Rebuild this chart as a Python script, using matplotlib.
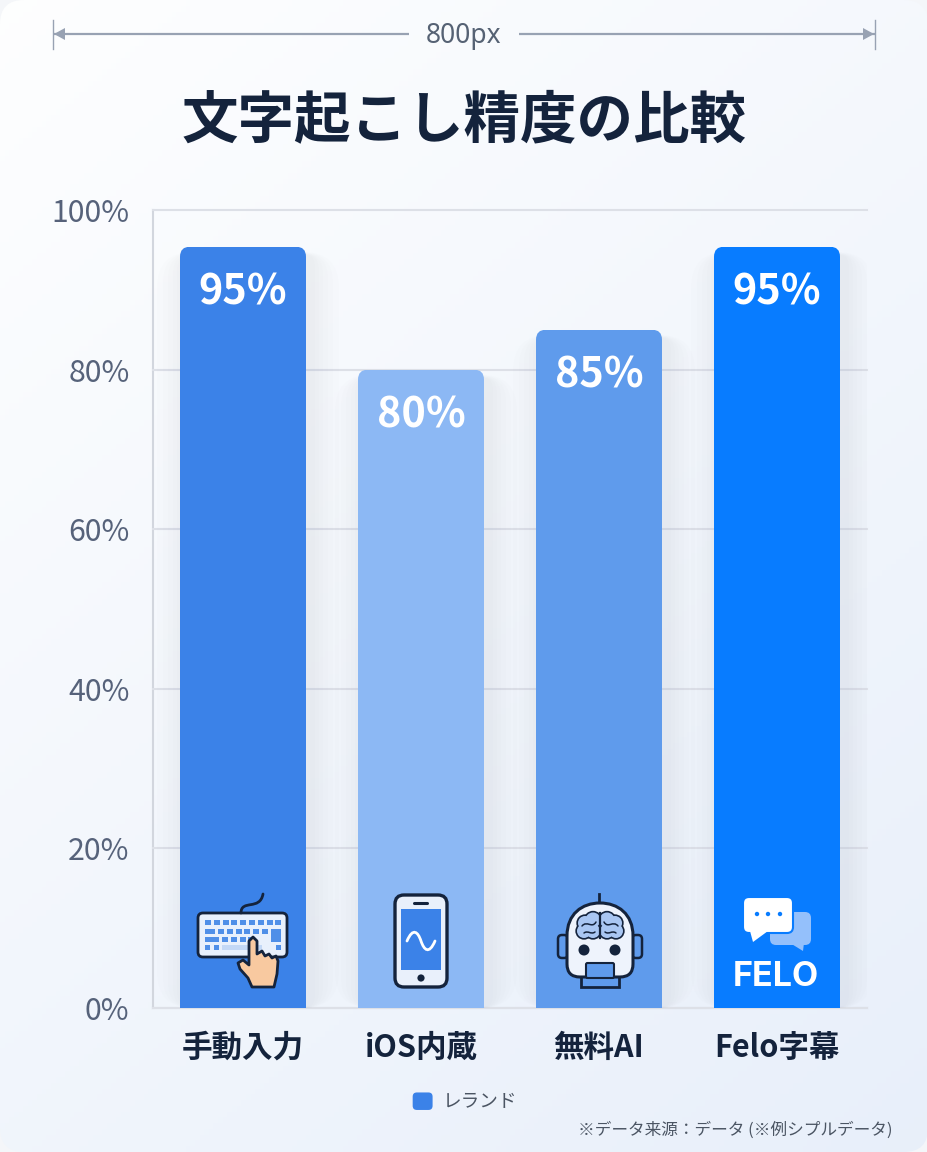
import numpy as np
import matplotlib
matplotlib.use("Agg")
import matplotlib.pyplot as plt
from matplotlib.legend_handler import HandlerPatch
from matplotlib.patches import Circle, FancyBboxPatch, PathPatch, Polygon, Rectangle
from matplotlib.path import Path

plt.rcParams['font.family'] = ['Noto Sans CJK JP', 'DejaVu Sans']

categories = ["手動入力", "iOS内蔵", "無料AI", "Felo字幕"]
values = [95.4, 80, 85, 95.4]
value_labels = ["95%", "80%", "85%", "95%"]
bar_colors = ["#3b82e8", "#8cb8f4", "#5f9bec", "#087cff"]
y_ticks = [0, 20, 40, 60, 80, 100]

DARK = "#14233c"
W, H = 928, 1152
LEFT, RIGHT, TOP, BOTTOM = 153, 867, 210, 1008
PX_X = 178.0  # pixels per category
PX_Y = (BOTTOM - TOP) / 100.0  # pixels per percent

fig = plt.figure(figsize=(W / 100, H / 100), dpi=100, facecolor="#f4f6f9")


def px_rect(left, top, right, bottom):
    return [left / W, 1 - bottom / H, (right - left) / W, (bottom - top) / H]


# background gradient with rounded card
bg = fig.add_axes([0, 0, 1, 1], zorder=0)
bg.set_xlim(0, W)
bg.set_ylim(H, 0)
bg.axis("off")
xx, yy = np.meshgrid(np.linspace(0, 1, 200), np.linspace(0, 1, 200))
t = (xx * 0.4 + yy * 0.6)[..., None]
grad = (1 - t) * np.array([0.995, 0.997, 1.0]) + t * np.array([0.91, 0.938, 0.98])
img = bg.imshow(grad, extent=(0, W, H, 0), aspect="auto", zorder=0)
card = FancyBboxPatch((0, 0), W, H, boxstyle="round,pad=0,rounding_size=24",
                      transform=bg.transData, fc="none", ec="none")
bg.add_patch(card)
img.set_clip_path(card)

# chart
ax = fig.add_axes(px_rect(LEFT, TOP, RIGHT, BOTTOM), zorder=1)
ax.patch.set_alpha(0)
x = np.arange(len(categories))
ax.set_xlim((LEFT - 243) / PX_X, (RIGHT - 243) / PX_X)
ax.set_ylim(0, 100)
ax.set_yticks(y_ticks)
ax.set_yticklabels([f"{v}%" for v in y_ticks], fontsize=21.8, color="#56627a")
ax.set_xticks(x)
ax.set_xticklabels(categories, fontsize=22, fontweight="bold", color=DARK)
ax.tick_params(axis="both", length=0)
ax.tick_params(axis="y", pad=17)
ax.tick_params(axis="x", pad=17)
ax.grid(axis="y", color="#dde0e7", linewidth=1.5, zorder=1, clip_on=False)
for side in ["top", "right"]:
    ax.spines[side].set_visible(False)
for side in ["left", "bottom"]:
    ax.spines[side].set_color("#d2d6de")
    ax.spines[side].set_linewidth(1.5)
    ax.spines[side].set_zorder(1.2)

aspect = PX_X / PX_Y
bars = ax.bar(x, values, width=126 / PX_X, color=bar_colors, zorder=3)
for bar, label in zip(bars, value_labels):
    bx, bw, bh = bar.get_x(), bar.get_width(), bar.get_height()
    # soft shadow, mostly beside the bar and not above it
    for grow in [28, 22, 17, 12, 8, 4]:
        ax.add_patch(FancyBboxPatch(
            (bx - grow / PX_X + 5 / PX_X, 0), bw + 2 * grow / PX_X, bh + (grow * 0.1 - 8) / PX_Y,
            boxstyle=f"round,pad=0,rounding_size={(grow + 8) / PX_X}",
            mutation_aspect=aspect, fc="#76839c", ec="none", alpha=0.011, zorder=2))
    # rounded top corners
    clip = FancyBboxPatch((bx, -5), bw, bh + 5,
                          boxstyle=f"round,pad=0,rounding_size={10 / PX_X}",
                          mutation_aspect=aspect, fc="none", ec="none",
                          transform=ax.transData)
    ax.add_patch(clip)
    bar.set_clip_path(clip)
    ax.annotate(label, (bar.get_x() + bw / 2, bh), xytext=(0, -46 * 0.72),
                textcoords="offset points", ha="center", va="center",
                color="white", fontsize=29.8, fontweight="bold", zorder=5)


def rounded_handle(legend, orig_handle, xdescent, ydescent, width, height, fontsize):
    return FancyBboxPatch((-xdescent, -ydescent), width, height,
                          boxstyle="round,pad=0,rounding_size=3")


ax.legend([Rectangle((0, 0), 1, 1, fc="#3b82e8", ec="none")], ["レランド"],
          handler_map={Rectangle: HandlerPatch(patch_func=rounded_handle)},
          frameon=False, fontsize=13.4, labelcolor="#4b5563",
          handlelength=1.07, handleheight=1.07, handletextpad=0.55,
          loc="center", bbox_to_anchor=((465 - LEFT) / (RIGHT - LEFT), -(1102 - BOTTOM) / (BOTTOM - TOP)))

# overlay in pixel coordinates for header, footnote and icons
ov = fig.add_axes([0, 0, 1, 1], zorder=2)
ov.set_xlim(0, W)
ov.set_ylim(H, 0)
ov.axis("off")

ov.text(464, 120, "文字起こし精度の比較", ha="center", va="center",
        fontsize=40.7, fontweight="bold", color=DARK)
ov.text(893, 1130, "※データ来源：データ (※例シプルデータ)", ha="right", va="center",
        fontsize=12, color="#4b5563")

# 800px dimension marker
DIM = "#98a2b3"
ov.text(464, 36, "800px", ha="center", va="center", fontsize=19, color="#566274",
        family=["Noto Sans"])
ov.plot([53, 409], [34, 34], color=DIM, lw=1.6, solid_capstyle="butt")
ov.plot([519, 875], [34, 34], color=DIM, lw=1.6, solid_capstyle="butt")
ov.plot([53, 53], [20, 49], color=DIM, lw=1.0)
ov.plot([875, 875], [20, 49], color=DIM, lw=1.0)
ov.add_patch(Polygon([(54, 34), (65, 28), (65, 40)], fc=DIM, ec="none"))
ov.add_patch(Polygon([(874, 34), (863, 28), (863, 40)], fc=DIM, ec="none"))


def rbox(x0, y0, x1, y1, r, fc, ec=DARK, lw=2.0, z=4):
    p = FancyBboxPatch((x0, y0), x1 - x0, y1 - y0, boxstyle=f"round,pad=0,rounding_size={r}",
                       fc=fc, ec=ec, lw=lw, zorder=z)
    ov.add_patch(p)
    return p


def curve(points, color=DARK, lw=2.0, z=5):
    codes = [Path.MOVETO] + [Path.CURVE4] * (len(points) - 1)
    ov.add_patch(PathPatch(Path(points, codes), fc="none", ec=color, lw=lw, zorder=z,
                           capstyle="round"))


# keyboard icon
KEY = "#4f8fe8"
curve([(241, 913), (241, 899), (260, 911), (263, 894)])
rbox(198, 913, 287, 957, 5, "#e8f0fc")
for i in range(9):
    ov.add_patch(Rectangle((205 + i * 8.8, 920), 6, 5.2, fc=KEY, ec="none", zorder=5))
ov.add_patch(Rectangle((205, 928.5), 10, 5.2, fc=KEY, ec="none", zorder=5))
for i in range(6):
    ov.add_patch(Rectangle((218 + i * 8.8, 928.5), 6, 5.2, fc=KEY, ec="none", zorder=5))
ov.add_patch(Rectangle((271, 928.5), 10, 13, fc=KEY, ec="none", zorder=5))
ov.add_patch(Rectangle((205, 936.5), 14, 5.2, fc=KEY, ec="none", zorder=5))
for i in range(4):
    ov.add_patch(Rectangle((222 + i * 8.8, 936.5), 6, 5.2, fc=KEY, ec="none", zorder=5))
ov.add_patch(Rectangle((205, 945), 5.5, 5.2, fc=KEY, ec="none", zorder=5))
ov.add_patch(Rectangle((214, 945), 5.5, 5.2, fc=KEY, ec="none", zorder=5))
ov.add_patch(Rectangle((222, 945), 40, 5.2, fc="#c3d8f6", ec="none", zorder=5))
ov.add_patch(Rectangle((276, 945), 5.5, 5.2, fc=KEY, ec="none", zorder=5))
hand = [(249, 941), (253, 937), (257, 941), (257, 954), (262, 951), (265, 956), (269, 954),
        (272, 958), (276, 956), (278, 961), (277, 974), (274, 987), (252, 987), (248, 978),
        (240, 969), (238, 963), (243, 960), (249, 965)]
ov.add_patch(Polygon(hand, fc="#f8c9a0", ec=DARK, lw=2.0, joinstyle="round", zorder=6))

# phone icon
rbox(395, 895, 447, 987, 9, "#e9f0fb", lw=2.4)
ov.add_patch(Rectangle((401, 909), 40, 61, fc="#3b82e8", ec="none", zorder=5))
ov.plot([414, 427], [902.5, 902.5], color=DARK, lw=2.2, zorder=5, solid_capstyle="round")
ov.add_patch(Circle((421, 978), 3.6, fc=DARK, ec="none", zorder=5))
curve([(407, 941), (413, 927), (418, 932), (421, 941), (424, 950), (429, 955), (435, 941)],
      color="white", lw=2.0)

# robot icon
ROBOT = "#5f9bec"
rbox(558, 935, 568, 958, 4, ROBOT, lw=1.8, z=4)
rbox(632, 935, 642, 958, 4, ROBOT, lw=1.8, z=4)
ov.plot([599, 599], [894, 904], color=DARK, lw=2, zorder=4)
ov.add_patch(Rectangle((581, 972), 38, 15, fc=ROBOT, ec=DARK, lw=2, zorder=4))
head = Path([(567, 964), (567, 936), (567, 914), (582, 903), (600, 903), (618, 903), (633, 914),
             (633, 936), (633, 964), (633, 977), (620, 977), (580, 977), (567, 977), (567, 964),
             (567, 964)],
            [Path.MOVETO, Path.LINETO, Path.CURVE4, Path.CURVE4, Path.CURVE4, Path.CURVE4,
             Path.CURVE4, Path.CURVE4, Path.LINETO, Path.CURVE3, Path.CURVE3, Path.LINETO,
             Path.CURVE3, Path.CURVE3, Path.CLOSEPOLY])
ov.add_patch(PathPatch(head, fc="#eef3fc", ec=DARK, lw=2.2, zorder=5))
rbox(586, 963, 614, 978, 1.5, ROBOT, lw=1.5, z=6)
ov.add_patch(Circle((584, 950), 5.5, fc=DARK, ec="none", zorder=6))
ov.add_patch(Circle((615, 950), 5.5, fc=DARK, ec="none", zorder=6))
lobes = [(585, 923, 7), (593, 920, 7.5), (584, 931, 7), (593, 931, 7)]
lobes = lobes + [(1200 - cx, cy, r) for cx, cy, r in lobes]
for cx, cy, r in lobes:
    ov.add_patch(Circle((cx, cy), r, fc=DARK, ec=DARK, lw=2.4, zorder=6))
for cx, cy, r in lobes:
    ov.add_patch(Circle((cx, cy), r, fc="#a9c6f2", ec="none", zorder=7))
ov.plot([600, 600], [913, 938], color=DARK, lw=1.6, zorder=8)
curve([(582, 926), (587, 920), (592, 929), (596, 922)], lw=1.1, z=8)
curve([(618, 926), (613, 920), (608, 929), (604, 922)], lw=1.1, z=8)
curve([(584, 933), (588, 930), (591, 935), (595, 932)], lw=1.1, z=8)
curve([(616, 933), (612, 930), (609, 935), (605, 932)], lw=1.1, z=8)

# Felo icon
rbox(770, 912, 811, 945, 6, "#94c0fb", ec="none", z=4)
ov.add_patch(Polygon([(790, 943), (804, 943), (803, 951)], fc="#94c0fb", ec="none", zorder=4))
rbox(743, 897, 793, 933, 6, "white", ec="#087cff", lw=1.5, z=5)
ov.add_patch(Polygon([(750, 931), (768, 931), (753, 942)], fc="white", ec="none", zorder=6))
for dot_x in [757, 768, 780]:
    ov.add_patch(Circle((dot_x, 914), 2.2, fc="#087cff", ec="none", zorder=6))
ov.text(776, 974, "FELO", ha="center", va="center_baseline", fontsize=24.5, fontweight="bold",
        color="white", family=["Inter"], zorder=6)

fig.savefig("out.png", dpi=100, facecolor=fig.get_facecolor())
